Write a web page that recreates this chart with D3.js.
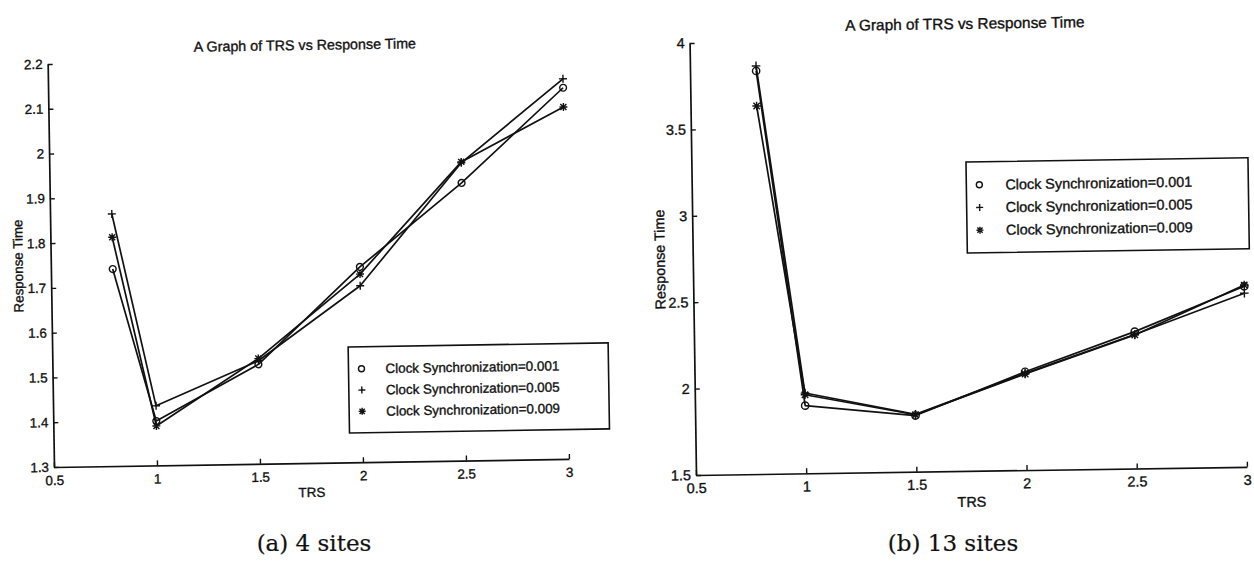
<!DOCTYPE html>
<html>
<head>
<meta charset="utf-8">
<script src="https://cdn.jsdelivr.net/npm/d3@7"></script>
<style>
  body { margin: 0; background: #fff; }
  svg text { font-family: "Liberation Sans", Arial, Helvetica, sans-serif; fill: #111; stroke: #111; stroke-width: 0.35px; }
  svg .caption { font-family: "DejaVu Serif", serif; stroke-width: 0.2px; }
</style>
</head>
<body>
<svg id="chart" width="1254" height="570"></svg>
<script>
// shared x values and labels
const trs = [0.8, 1, 1.5, 2, 2.5, 3]
const xTicks = [0.5, 1, 1.5, 2, 2.5, 3]
const legendLabels = ["Clock Synchronization=0.001", "Clock Synchronization=0.005", "Clock Synchronization=0.009"]
const markerTypes = ["circle", "plus", "star"]
const titleText = "A Graph of TRS vs Response Time"

// (a) 4 sites
const sites4Sync001 = [1.740, 1.399, 1.522, 1.736, 1.920, 2.129]
const sites4Sync005 = [1.863, 1.433, 1.530, 1.694, 1.965, 2.149]
const sites4Sync009 = [1.811, 1.388, 1.535, 1.720, 1.967, 2.086]
const sites4YTicks = [1.3, 1.4, 1.5, 1.6, 1.7, 1.8, 1.9, 2, 2.1, 2.2]

// (b) 13 sites
const sites13Sync001 = [3.833, 1.892, 1.825, 2.069, 2.292, 2.545]
const sites13Sync005 = [3.862, 1.965, 1.832, 2.060, 2.275, 2.505]
const sites13Sync009 = [3.630, 1.955, 1.830, 2.056, 2.273, 2.552]
const sites13YTicks = [1.5, 2, 2.5, 3, 3.5, 4]

const svg = d3.select("#chart")

// matlab style markers: o, + and *
function markerPath(type, s) {
    const p = d3.path()
    if (type === "circle") {
        p.moveTo(s, 0)
        p.arc(0, 0, s, 0, 2 * Math.PI)
        return p.toString()
    }
    p.moveTo(-s, 0); p.lineTo(s, 0)
    p.moveTo(0, -s); p.lineTo(0, s)
    if (type === "star") {
        const d = s * 0.75
        p.moveTo(-d, -d); p.lineTo(d, d)
        p.moveTo(-d, d); p.lineTo(d, -d)
    }
    return p.toString()
}

function drawPanel(cfg) {
    // the scanned page is slightly tilted, so every panel is turned a little
    const g = svg.append("g")
        .attr("transform", `rotate(${cfg.angle},${cfg.left},${cfg.bottom})`)

    const x = d3.scaleLinear().domain([0.5, 3]).range([cfg.left, cfg.right])
    const y = d3.scaleLinear().domain(cfg.yDomain).range([cfg.bottom, cfg.top])

    const xAxis = g.append("g")
        .attr("transform", `translate(0,${cfg.bottom})`)
        .call(d3.axisBottom(x).tickValues(xTicks).tickFormat(d => String(d))
            .tickSizeInner(-5).tickSizeOuter(0).tickPadding(cfg.xPad))
    const yAxis = g.append("g")
        .attr("transform", `translate(${cfg.left},0)`)
        .call(d3.axisLeft(y).tickValues(cfg.yTicks).tickFormat(d => String(d))
            .tickSizeInner(-5).tickSizeOuter(0).tickPadding(5))
    for (const ax of [xAxis, yAxis]) {
        ax.attr("font-family", null).attr("font-size", cfg.font)
        ax.select(".domain").attr("stroke", "#111").attr("stroke-width", 1.7)
        ax.selectAll(".tick line").attr("stroke", "#111").attr("stroke-width", 1.4)
        ax.selectAll(".tick text").attr("fill", "#111")
    }

    // titles and axis labels
    g.append("text")
        .attr("x", (cfg.left + cfg.right) / 2)
        .attr("y", cfg.top - 10)
        .attr("text-anchor", "middle")
        .style("font-size", cfg.titleFont + "px")
        .text(titleText)
    g.append("text")
        .attr("x", (cfg.left + cfg.right) / 2)
        .attr("y", cfg.bottom + cfg.xLabelOffset)
        .attr("text-anchor", "middle")
        .style("font-size", cfg.font + "px")
        .text("TRS")
    g.append("text")
        .attr("transform", `translate(${cfg.left - 28},${(cfg.top + cfg.bottom) / 2}) rotate(-90)`)
        .attr("text-anchor", "middle")
        .style("font-size", cfg.font + "px")
        .text("Response Time")

    // lines
    const line = d3.line().x((d, i) => x(trs[i])).y(d => y(d))
    cfg.series.forEach((vals, k) => {
        g.append("path")
            .attr("d", line(vals))
            .attr("fill", "none")
            .attr("stroke", "#111")
            .attr("stroke-width", 1.7)
            .attr("stroke-linejoin", "round")
        g.selectAll(null)
            .data(vals)
            .join("path")
            .attr("transform", (d, i) => `translate(${x(trs[i])},${y(d)})`)
            .attr("d", markerPath(markerTypes[k], markerTypes[k] === "circle" ? cfg.mk * 0.85 : cfg.mk))
            .attr("fill", "none")
            .attr("stroke", "#111")
            .attr("stroke-width", 1.4)
    })

    // legend
    const lg = g.append("g").attr("transform", `translate(${cfg.legend.x},${cfg.legend.y})`)
    lg.append("rect")
        .attr("width", cfg.legend.w)
        .attr("height", cfg.legend.h)
        .attr("fill", "#fff")
        .attr("stroke", "#111")
        .attr("stroke-width", 1.6)
    legendLabels.forEach((lab, k) => {
        const ry = cfg.legend.row0 + k * cfg.legend.step
        lg.append("path")
            .attr("transform", `translate(${cfg.legend.mx},${ry})`)
            .attr("d", markerPath(markerTypes[k], markerTypes[k] === "circle" ? 3 : 3.5))
            .attr("fill", "none")
            .attr("stroke", "#111")
            .attr("stroke-width", 1.4)
        lg.append("text")
            .attr("x", cfg.legend.tx)
            .attr("y", ry)
            .attr("dy", "0.35em")
            .style("font-size", cfg.font + "px")
            .text(lab)
    })

    svg.append("text")
        .attr("class", "caption")
        .attr("x", cfg.captionX)
        .attr("y", 551)
        .attr("text-anchor", "middle")
        .style("font-size", "23px")
        .text(cfg.caption)
}

drawPanel({
    series: [sites4Sync001, sites4Sync005, sites4Sync009],
    yDomain: [1.3, 2.2], yTicks: sites4YTicks,
    left: 54, right: 569, bottom: 467, top: 64, angle: -0.9,
    font: 13.4, titleFont: 14.3, xPad: 8.5, xLabelOffset: 34, mk: 4,
    legend: { x: 350, y: 351.6, w: 260, h: 86, row0: 22, step: 21.3, mx: 13, tx: 37 },
    caption: "(a) 4 sites", captionX: 314
})

drawPanel({
    series: [sites13Sync001, sites13Sync005, sites13Sync009],
    yDomain: [1.5, 4], yTicks: sites13YTicks,
    left: 696, right: 1247, bottom: 475, top: 43, angle: -0.85,
    font: 14.4, titleFont: 15.4, xPad: 7.8, xLabelOffset: 36, mk: 4.3,
    legend: { x: 970.6, y: 166, w: 282, h: 91, row0: 23, step: 22.7, mx: 13, tx: 39 },
    caption: "(b) 13 sites", captionX: 953
})
</script>
</body>
</html>
